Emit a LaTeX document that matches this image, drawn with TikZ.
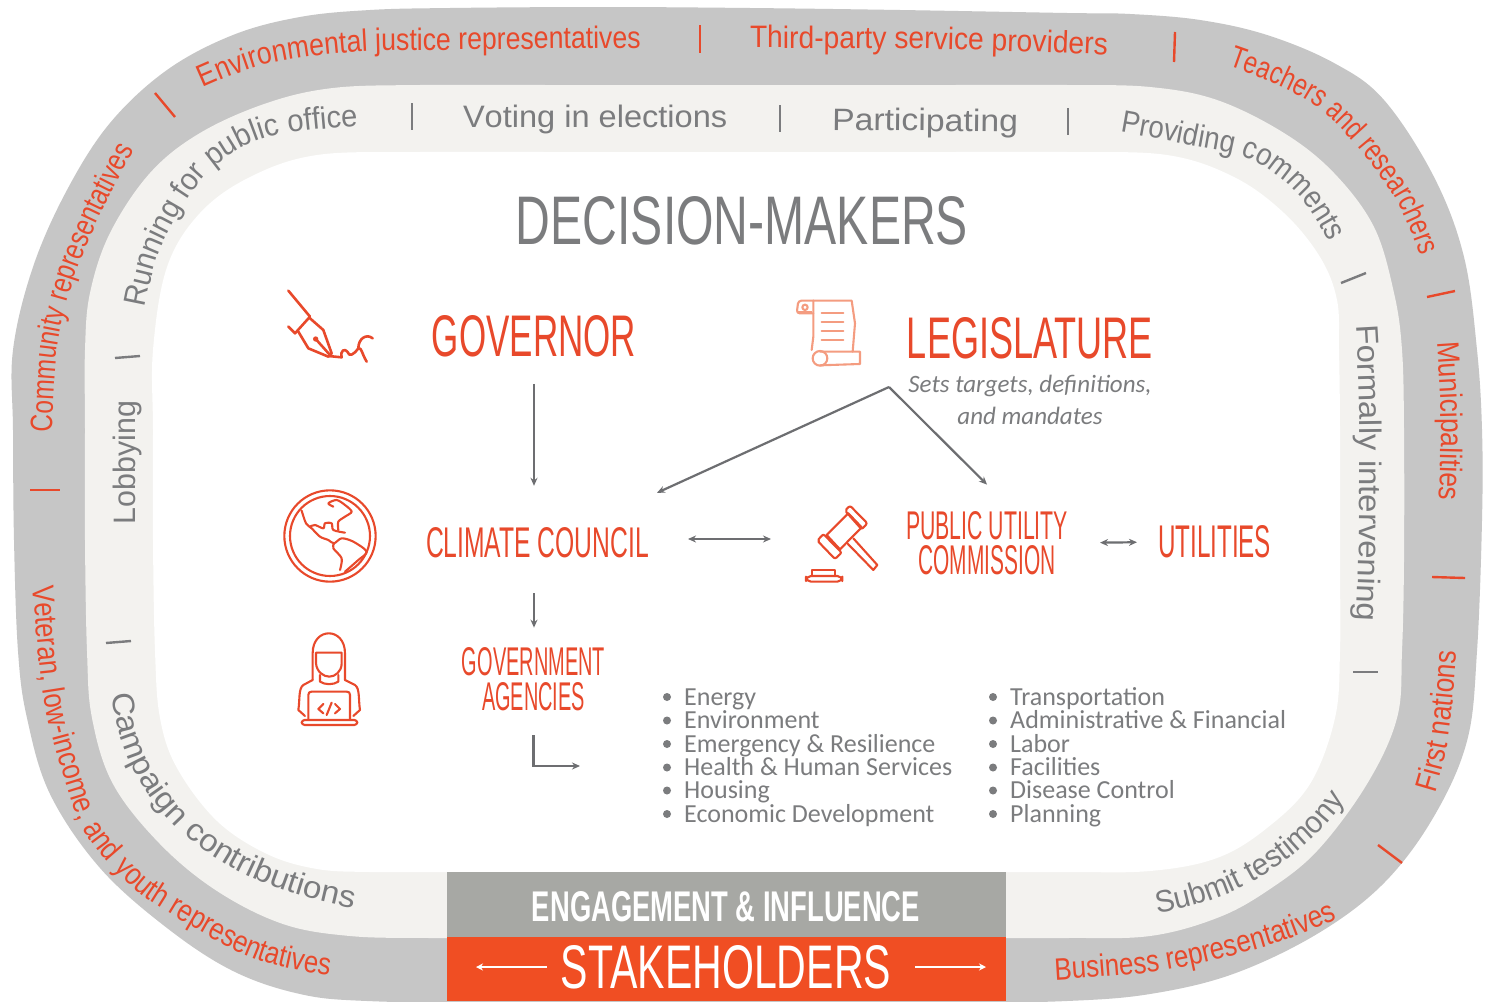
\documentclass[tikz,border=0pt]{standalone}
\usepackage{fontspec}
\usepackage{graphicx}
\usetikzlibrary{arrows.meta,decorations.text,calc}
\setmainfont{Liberation Sans}
\newfontfamily\headfont{Liberation Sans}
\newfontfamily\listfam{Carlito}
\newfontfamily\fsA[FakeStretch=0.79]{Liberation Sans}
\newfontfamily\fsB[FakeStretch=0.86]{Liberation Sans}
\newfontfamily\fsC[FakeStretch=0.91]{Liberation Sans}
\newfontfamily\fsD[FakeStretch=0.78]{Liberation Sans}
\newfontfamily\fsE[FakeStretch=0.85]{Liberation Sans}
\newfontfamily\fsF[FakeStretch=0.84]{Liberation Sans}
\newfontfamily\fsG[FakeStretch=0.83]{Liberation Sans}
\newfontfamily\fsH[FakeStretch=0.94]{Liberation Sans}
\newfontfamily\fsI[FakeStretch=1.05]{Liberation Sans}
\newfontfamily\fsJ[FakeStretch=1.09]{Liberation Sans}
\newfontfamily\fsK[FakeStretch=0.89]{Liberation Sans}
\newfontfamily\fsL[FakeStretch=1.06]{Liberation Sans}
\newfontfamily\fsM[FakeStretch=0.95]{Liberation Sans}
\newfontfamily\fsN[FakeStretch=1.07]{Liberation Sans}
\newfontfamily\fsO[FakeStretch=0.98]{Liberation Sans}
\definecolor{oran}{HTML}{E8492B}
\definecolor{rimgray}{HTML}{C6C6C6}
\definecolor{offw}{HTML}{F3F2EF}
\definecolor{boxgray}{HTML}{A7A8A4}
\definecolor{boxor}{HTML}{F04E23}
\definecolor{tgray}{HTML}{7B7C7E}
\definecolor{agray}{HTML}{6D6E71}
\definecolor{scrollc}{HTML}{F49C80}
\newcommand{\fitted}[3]{\resizebox{#1}{#2}{#3}}
\newcommand{\rimtext}[3]{\path[decorate,decoration={text along path,text={|#1\fontsize{31}{31}\selectfont\color{oran}|#3}}] plot[smooth,tension=.6] coordinates {#2};}
\newcommand{\inntext}[3]{\path[decorate,decoration={text along path,text={|#1\fontsize{31}{31}\selectfont\color{tgray}|#3}}] plot[smooth,tension=.6] coordinates {#2};}
\tikzset{
 head/.style={inner sep=0pt,outer sep=0pt,font=\headfont},
 arr/.style={draw=agray,line width=2.2pt,-{Stealth[length=8pt,width=7pt]}},
 darr/.style={draw=agray,line width=2.2pt,{Stealth[length=8pt,width=7pt]}-{Stealth[length=8pt,width=7pt]}},
 warr/.style={draw=white,line width=2pt,-{Stealth[length=7pt,width=7pt]}},
 sepo/.style={draw=oran,line width=2.4pt},
 sepg/.style={draw=tgray,line width=2.4pt},
 icon/.style={draw=oran,line width=2.1pt,line cap=round,line join=round},
 listitem/.style={anchor=base west,inner sep=0pt,text=tgray,font=\listfam\fontsize{26}{26}\selectfont},
 dot/.style={fill=tgray},
}
\begin{document}
\begin{tikzpicture}[x=1pt,y=-1pt]
\useasboundingbox (0,0) rectangle (1487,1001);
\fill[white] (0,0) rectangle (1487,1001);
% outer ring
\fill[rimgray] plot[smooth cycle,tension=.6] coordinates {
 (13,430)(13,350)(33,267)(67,190)(110,123)(167,70)(233,35)(300,17)(370,10)(450,8)(600,7)(750,8)(900,10)(1067,13)(1130,14)(1200,20)(1267,35)(1334,63)(1384,100)(1434,177)(1464,257)(1477,350)(1482,430)(1482,520)(1477,651)(1467,741)(1433,818)(1383,884)(1317,934)(1233,974)(1150,994)(1067,1001)(950,1003)(750,1003)(500,1003)(367,1001)(300,994)(233,971)(167,928)(100,868)(50,794)(27,718)(18,651)(14,540)};
% middle ring
\fill[offw] plot[smooth cycle,tension=.6] coordinates {
 (85,430)(85,350)(90,293)(110,233)(150,173)(200,133)(267,103)(333,88)(420,85)(550,85)(750,85)(950,85)(1067,85)(1150,87)(1217,100)(1284,133)(1334,173)(1374,227)(1394,293)(1402,350)(1404,430)(1404,560)(1402,651)(1397,718)(1367,784)(1317,851)(1267,891)(1217,918)(1150,936)(1067,938)(950,938)(750,938)(550,938)(430,938)(350,936)(283,924)(217,891)(160,844)(113,784)(92,718)(87,651)(85,540)};
% inner white
\fill[white] plot[smooth cycle,tension=.6] coordinates {
 (153,430)(153,350)(167,267)(200,213)(250,177)(317,155)(420,152)(550,152)(750,152)(950,152)(1067,152)(1167,155)(1234,177)(1284,213)(1320,257)(1337,300)(1339,350)(1340,430)(1340,560)(1340,651)(1335,718)(1310,784)(1267,828)(1217,858)(1150,871)(1060,872)(900,872)(750,872)(600,872)(447,872)(370,872)(317,869)(267,854)(217,821)(177,768)(160,718)(155,651)(153,540)};
% bottom boxes
\fill[boxgray] (447,872) rectangle (1006,937);
\fill[boxor] (447,937) rectangle (1006,1001);
% outer ring text
\rimtext{\fsA}{(52,432)(57,350)(72,285)(95,227)(138,143)(170,100)(190,80)}{Community representatives}
\rimtext{\fsB}{(203,88)(267,64)(352,52)(445,50)(642,48)(700,48)}{Environmental justice representatives}
\rimtext{\fsC}{(750,48)(930,49)(1110,55)(1170,60)}{Third-party service providers}
\rimtext{\fsD}{(1228,66)(1317,107)(1390,190)(1425,270)(1434,320)}{Teachers and researchers}
\rimtext{\fsE}{(1437,342)(1441,420)(1439,500)(1435,560)}{Municipalities}
\rimtext{\fsE}{(1435,793)(1448,740)(1457,651)(1460,590)}{First nations}
\rimtext{\fsF}{(1055,980)(1167,970)(1267,946)(1340,918)(1380,895)}{Business representatives}
\rimtext{\fsG}{(33,586)(43,693)(62,770)(85,832)(125,880)(163,909)(253,958)(338,977)(400,985)}{Veteran, low-income, and youth representatives}
% inner ring text
\inntext{\fsH}{(145,308)(160,250)(195,188)(230,155)(277,135)(360,126)(410,124)}{Running for public office}
\inntext{\fsI}{(463,127)(595,127)(728,127)(770,127)}{Voting in elections}
\inntext{\fsJ}{(832,130)(925,131)(1017,132)(1060,133)}{Participating}
\inntext{\fsK}{(1120,132)(1190,145)(1252,160)(1300,197)(1333,250)(1345,290)}{Providing comments}
\path[decorate,decoration={text along path,text={|\fsL\fontsize{31}{31}\selectfont\color{tgray}|Formally intervening}}] (1356,325) .. controls (1362,420) and (1362,570) .. (1350,720);
\path[decorate,decoration={text along path,text={|\fsM\fontsize{31}{31}\selectfont\color{tgray}|Submit testimony}}] (1157,913) .. controls (1240,900) and (1325,855) .. (1375,750);
\path[decorate,decoration={text along path,text={|\fsN\fontsize{31}{31}\selectfont\color{tgray}|Campaign contributions}}] (112,694) .. controls (125,810) and (215,895) .. (400,915);
\path[decorate,decoration={text along path,text={|\fsO\fontsize{31}{31}\selectfont\color{tgray}|Lobbying}}] (135,524) .. controls (135,470) and (135,400) .. (135,340);
% separators
\draw[sepo] (30,490)--(60,490);
\draw[sepo] (155,93)--(175,117);
\draw[sepo] (700,25)--(700,53);
\draw[sepo] (1175,32)--(1174,62);
\draw[sepo] (1427,297)--(1455,291);
\draw[sepo] (1432,577)--(1465,578);
\draw[sepo] (1378,845)--(1402,863);
\draw[sepg] (412,103)--(412,130);
\draw[sepg] (780,105)--(780,132);
\draw[sepg] (1068,108)--(1068,135);
\draw[sepg] (1341,283)--(1366,273);
\draw[sepg] (1353,672)--(1378,672);
\draw[sepg] (106,643)--(131,641);
\draw[sepg] (115,358)--(140,356);
% heads
\node[head,text=tgray] (dm) at (742,221) {\fitted{452pt}{48pt}{DECISION-MAKERS}};
\node[head,text=oran] (gov) at (534,336) {\fitted{204pt}{41pt}{GOVERNOR}};
\node[head,text=oran] (leg) at (1030,338) {\fitted{246pt}{41pt}{LEGISLATURE}};
\node[anchor=base,inner sep=0pt,text=tgray,font=\listfam\itshape\fontsize{25}{25}\selectfont] (legnote) at (1030,392) {Sets targets, definitions,};
\node[anchor=base,inner sep=0pt,text=tgray,font=\listfam\itshape\fontsize{25}{25}\selectfont] (legnoteb) at (1030,424) {and mandates};
\node[head,text=oran,outer xsep=8pt,outer ysep=35pt] (cc) at (537.5,543) {\fitted{223pt}{30pt}{CLIMATE COUNCIL}};
\node[head,text=oran,align=center,outer ysep=27pt] (puc) at (987,543) {\fitted{162pt}{28pt}{PUBLIC UTILITY}\\[4pt]\fitted{137pt}{29pt}{COMMISSION}};
\node[head,text=oran] (util) at (1214.5,542) {\fitted{113pt}{32pt}{UTILITIES}};
\node[head,text=oran,align=center] (ag) at (533.5,679) {\fitted{143pt}{28pt}{GOVERNMENT}\\[5pt]\fitted{103pt}{28pt}{AGENCIES}};
\node[head,text=white,font=\headfont\bfseries] (eng) at (726,907) {\fitted{388pt}{30pt}{ENGAGEMENT \& INFLUENCE}};
\node[head,text=white] (stake) at (726,967) {\fitted{330pt}{43pt}{STAKEHOLDERS}};
% connectors
\coordinate (legapex) at (889,387);
\coordinate (listin) at (580,766);
\coordinate (stakeL) at (476,967);
\coordinate (stakeR) at (986,967);
\draw[arr,shorten <=27pt,shorten >=7pt] (gov.south) -- (gov.south |- cc.north);
\draw[arr] (legapex) -- (cc.north east);
\draw[arr] (legapex) -- (puc.north);
\draw[darr,shorten <=31pt,shorten >=135pt] ([yshift=4pt]cc.east) -- ([yshift=4pt]puc.west);
\draw[darr,shorten <=32pt,shorten >=21pt] (puc.east) -- (util.west);
\draw[arr,shorten >=20pt] (gov.south |- cc.south) -- (ag.north -| gov.south);
\draw[arr,shorten <=25pt] (ag.south) |- (listin);
\draw[warr,shorten <=14pt] (stake.west) -- (stakeL);
\draw[warr,shorten <=24pt] (stake.east) -- (stakeR);
% lists
\foreach \yy/\tt in {705/Energy,728.5/Environment,752/Emergency \& Resilience,775.5/Health \& Human Services,798.5/Housing,822/Economic Development}{
 \node[listitem] at (684,\yy) {\tt};
 \fill[dot] (667,\yy-8) circle (4);
}
\foreach \yy/\tt in {705/Transportation,728.5/Administrative \& Financial,752/Labor,775.5/Facilities,798.5/Disease Control,822/Planning}{
 \node[listitem] at (1010,\yy) {\tt};
 \fill[dot] (993,\yy-8) circle (4);
}
% pen icon
\begin{scope}[shift={(260,270)},x=0.3333pt,y=-0.3333pt]
 \draw[icon,line width=2.6pt] (85,62)--(150,140);
 \draw[icon,line width=2.6pt] (85,170)--(105,190)--(150,140);
 \draw[icon,line width=2.6pt] (150,145)--(190,180)--(215,250)--(205,260)--(145,235)--(115,185);
 \draw[icon,line width=2.6pt] (167,207)--(210,255);
 \fill[oran] (167,207) circle (8);
 \draw[icon,line width=2.6pt] (205,258)--(245,262) .. controls (240,240) and (255,235) .. (262,245) .. controls (268,262) and (280,255) .. (295,235) .. controls (305,232) and (305,250) .. (320,275);
 \draw[icon,line width=2.6pt] (295,235) .. controls (295,205) and (320,190) .. (338,205);
\end{scope}
% scroll icon
\begin{scope}[shift={(780,280)},x=0.3333pt,y=-0.3333pt]
 \draw[icon,draw=scrollc] (100,62)--(215,62)--(225,130)--(218,215);
 \draw[icon,draw=scrollc] (100,62)--(100,170)--(95,210);
 \draw[icon,draw=scrollc,rounded corners=3pt] (100,62)--(55,62)--(50,100)--(100,100);
 \fill[scrollc] (55,92) rectangle (95,102);
 \draw[icon,draw=scrollc] (75,82) circle (8);
 \draw[icon,draw=scrollc] (120,235) circle (22);
 \draw[icon,draw=scrollc] (120,215)--(240,215)--(240,252)--(120,256);
 \foreach \yy in {100,127,153,180}{\draw[icon,draw=scrollc] (125,\yy)--(190,\yy);}
\end{scope}
% globe, person
\begin{scope}[shift={(270,480)},x=0.3333pt,y=-0.3333pt]
 \draw[icon] (180,168) circle (137);
 \draw[icon] (180,168) circle (120);
 \draw[icon] plot[smooth,tension=.5] coordinates {(95,92)(108,130)(125,145)(150,170)(175,180)(192,190)(215,175)(250,185)(290,215)(265,240)(225,275)};
 \draw[icon] plot[smooth,tension=.5] coordinates {(192,190)(190,205)(215,235)(210,270)};
 \draw[icon] plot[smooth,tension=.5] coordinates {(120,140)(135,135)(160,145)(165,130)(185,130)(190,150)(225,158)};
 \draw[icon] plot[smooth,tension=.5] coordinates {(205,150)(205,125)(225,110)(245,95)(225,75)(200,60)(175,70)(190,80)};
 % person
 \draw[icon] (128,600)--(128,520) .. controls (128,440) and (225,440) .. (225,520)--(225,600);
 \draw[icon] (138,518)--(215,518)--(215,550) .. controls (215,575) and (195,590) .. (178,590) .. controls (160,590) and (140,575) .. (138,550)--cycle;
 \draw[icon] (150,585)--(150,605) .. controls (165,615) and (190,615) .. (205,605)--(205,585);
 \draw[icon] (128,600)--(100,615) .. controls (85,625) and (90,660) .. (85,690)--(105,708);
 \draw[icon] (225,600)--(255,615) .. controls (270,625) and (265,660) .. (270,690)--(250,708);
 \draw[icon] (115,718)--(115,645) .. controls (115,638) and (118,635) .. (125,635)--(230,635) .. controls (237,635) and (240,638) .. (240,645)--(240,718);
 \draw[icon,rounded corners=3pt] (95,720)--(262,720)--(262,735)--(95,735)--cycle;
 \draw[icon] (160,672)--(145,687)--(160,700);
 \draw[icon] (195,672)--(210,687)--(195,700);
 \draw[icon] (185,668)--(170,705);
\end{scope}
% gavel
\begin{scope}[shift={(790,490)},x=0.3333pt,y=-0.3333pt]
 \draw[icon] (110,135)--(175,70)--(215,112)--(150,178)--cycle;
 \draw[icon,rounded corners=2pt] (82,152)--(100,132)--(155,188)--(135,207)--cycle;
 \draw[icon,rounded corners=2pt] (165,62)--(180,47)--(232,100)--(215,118)--cycle;
 \draw[icon] (190,145)--(262,225)--(250,240)--(172,160);
 \draw[icon] (65,258)--(65,240)--(135,240)--(135,258);
 \draw[icon,rounded corners=5pt] (48,258)--(157,258)--(157,275)--(48,275)--cycle;
\end{scope}
\end{tikzpicture}
\end{document}
